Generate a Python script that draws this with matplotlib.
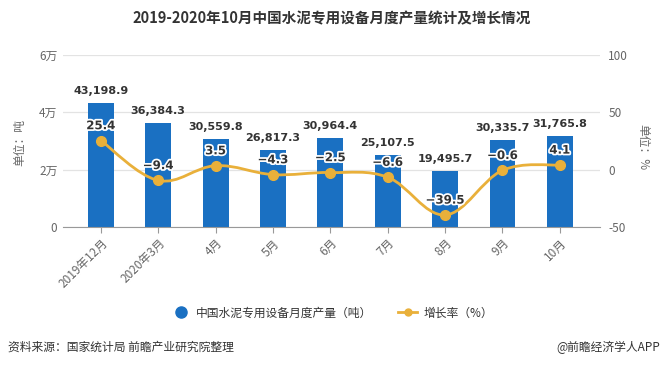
import matplotlib
matplotlib.use('Agg')
import matplotlib.pyplot as plt
import matplotlib.patheffects as pe
from matplotlib.path import Path
from matplotlib.patches import PathPatch
from matplotlib.lines import Line2D

plt.rcParams['font.family'] = ['Noto Sans CJK SC', 'DejaVu Sans']
plt.rcParams['axes.unicode_minus'] = False

months = ['2019年12月', '2020年3月', '4月', '5月', '6月', '7月', '8月', '9月', '10月']
output = [43198.9, 36384.3, 30559.8, 26817.3, 30964.4, 25107.5, 19495.7, 30335.7, 31765.8]
growth = [25.4, -9.4, 3.5, -4.3, -2.5, -6.6, -39.5, -0.6, 4.1]
left_ticks = [0, 20000, 40000, 60000]
left_tick_labels = ['0', '2万', '4万', '6万']
right_ticks = [-50, 0, 50, 100]

bar_color = '#1a70c2'
line_color = '#e9b03a'
text_dark = '#333333'
tick_color = '#666666'

W, H = 664, 368
fig = plt.figure(figsize=(W / 100, H / 100), dpi=100)
ax = fig.add_axes([63 / W, 1 - 227 / H, (600 - 63) / W, (227 - 55) / H])

x = list(range(len(months)))
ax.bar(x, output, width=0.45, color=bar_color, zorder=2)
ax.set_xlim(-0.66, 8.7)
ax.set_ylim(0, 60000)
ax.set_yticks(left_ticks)
ax.set_yticklabels(left_tick_labels)
ax.set_xticks(x)
ax.set_xticklabels(months, rotation=45, ha='right', rotation_mode='anchor')
ax.grid(axis='y', color='#e3e3e3', linewidth=0.9, zorder=0)
for s in ['top', 'right', 'left']:
  ax.spines[s].set_visible(False)
ax.spines['bottom'].set_color('#999999')
ax.tick_params(axis='x', colors='#999999', length=4, labelcolor=tick_color, labelsize=8.5, pad=3)
ax.tick_params(axis='y', length=0, labelcolor=tick_color, labelsize=8.5, pad=4)

for xi, v in zip(x, output):
  ax.annotate('{:,.1f}'.format(v), (xi, v), xytext=(0, 5), textcoords='offset points',
              ha='center', va='bottom', fontsize=8, fontweight='bold', color=text_dark,
              family=['DejaVu Sans'])

ax2 = ax.twinx()
ax2.set_ylim(-50, 100)
ax2.set_yticks(right_ticks)
for s in ['top', 'right', 'left', 'bottom']:
  ax2.spines[s].set_visible(False)
ax2.tick_params(axis='y', length=0, labelcolor=tick_color, labelsize=8.5, pad=6)

# smooth line through the points (Catmull-Rom style bezier)
pts = list(zip(x, growth))
k = 0.18
verts = [pts[0]]
codes = [Path.MOVETO]
for i in range(len(pts) - 1):
  p0 = pts[i - 1] if i > 0 else pts[i]
  p1 = pts[i]
  p2 = pts[i + 1]
  p3 = pts[i + 2] if i + 2 < len(pts) else pts[i + 1]
  c1 = (p1[0] + (p2[0] - p0[0]) * k, p1[1] + (p2[1] - p0[1]) * k)
  c2 = (p2[0] - (p3[0] - p1[0]) * k, p2[1] - (p3[1] - p1[1]) * k)
  verts += [c1, c2, p2]
  codes += [Path.CURVE4] * 3
ax2.add_patch(PathPatch(Path(verts, codes), facecolor='none', edgecolor=line_color, linewidth=2, zorder=3))
ax2.plot(x, growth, linestyle='none', marker='o', markersize=7, color=line_color, zorder=4)

for xi, g in zip(x, growth):
  t = ax2.annotate('{:.1f}'.format(g).replace('-', '−'), (xi, g), xytext=(0, 6), textcoords='offset points',
                   ha='center', va='bottom', fontsize=8.5, fontweight='bold', color=text_dark,
                   family=['DejaVu Sans'], zorder=5)
  t.set_path_effects([pe.withStroke(linewidth=2.5, foreground='white')])

fig.text(332 / W, 1 - 18 / H, '2019-2020年10月中国水泥专用设备月度产量统计及增长情况',
         ha='center', va='center', fontsize=10.5, fontweight='bold', color='#333333')
fig.text(20 / W, 1 - 143 / H, '单位：吨', rotation=90, ha='center', va='center', fontsize=8.5, color=tick_color)
fig.text(643 / W, 1 - 147 / H, '单位：%', rotation=270, ha='center', va='center', fontsize=8.5, color=tick_color)

handles = [
  Line2D([], [], linestyle='none', marker='o', markersize=8, color=bar_color),
  Line2D([], [], color=line_color, linewidth=2, marker='o', markersize=5),
]
fig.legend(handles, ['中国水泥专用设备月度产量（吨）', '增长率（%）'], loc='center',
           bbox_to_anchor=(332 / W, 1 - 313 / H), ncol=2, frameon=False, fontsize=8.5,
           handlelength=1.6, columnspacing=2.2, handletextpad=0.5, labelcolor='#333333')

fig.text(8 / W, 1 - 347 / H, '资料来源：国家统计局 前瞻产业研究院整理', ha='left', va='center', fontsize=8.5, color='#333333')
fig.text(660 / W, 1 - 347 / H, '@前瞻经济学人APP', ha='right', va='center', fontsize=8.5, color='#333333')

fig.savefig('out.png', dpi=100)
